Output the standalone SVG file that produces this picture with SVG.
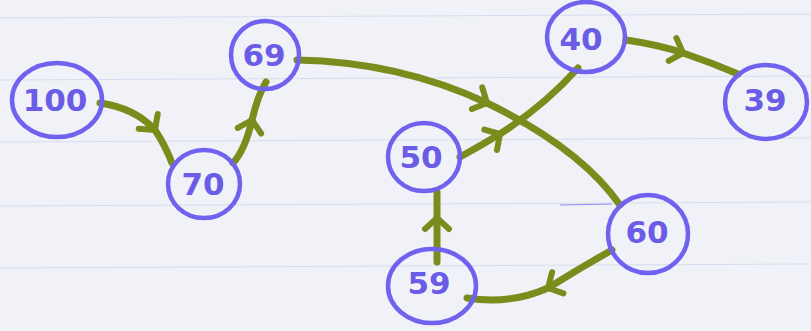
<svg xmlns="http://www.w3.org/2000/svg" width="811" height="331" viewBox="0 0 811 331">
<style>
.node ellipse{fill:none;stroke:#6f62ee;stroke-width:4.5}
.node text{font-family:"DejaVu Sans",sans-serif;font-size:31px;font-weight:bold;fill:#6a5ce6;text-anchor:middle;dominant-baseline:central}
.edge{fill:none;stroke:#7b8c1c;stroke-width:7;stroke-linecap:round;marker-mid:url(#arr)}
.rule{stroke:#d6dcef;stroke-width:1}
</style>
<defs>
<marker id="arr" markerUnits="userSpaceOnUse" orient="auto" overflow="visible" markerWidth="1" markerHeight="1" refX="0" refY="0">
<path d="M-11,-12 L0,0 L-11,12" fill="none" stroke="#7b8c1c" stroke-width="6" stroke-linecap="round" stroke-linejoin="round"/>
</marker>
</defs>
<rect width="811" height="331" fill="#f0f2f7"/>
<g id="paper">
<line class="rule" x1="0" y1="18" x2="811" y2="14"/>
<line class="rule" x1="0" y1="80" x2="811" y2="76"/>
<line class="rule" x1="0" y1="142" x2="811" y2="138"/>
<line class="rule" x1="0" y1="206" x2="811" y2="202"/>
<line class="rule" x1="0" y1="268" x2="811" y2="264"/>
<line x1="560" y1="205" x2="612" y2="204" stroke="#8f86f0" stroke-width="1.2"/>
</g>
<g id="connectors">
<path class="edge" d="M100,103 Q135,108 155,130 Q165,145 172,163"/>
<path class="edge" d="M233,163 Q245,150 252,120 Q258,95 266,82"/>
<path class="edge" d="M297,60 Q400,62 487,103 Q580,148 620,205"/>
<path class="edge" d="M460,157 Q480,146 500,134 Q545,105 578,68"/>
<path class="edge" d="M626,40 Q660,45 683,53 Q710,62 738,74"/>
<path class="edge" d="M612,250 Q580,268 548,288 Q510,305 467,298"/>
<path class="edge" d="M437,262 L437,218 L437,192"/>
</g>
<g id="n100" class="node"><ellipse cx="57" cy="100" rx="45" ry="37"/><text x="55" y="100">100</text></g>
<g id="n70" class="node"><ellipse cx="204" cy="184" rx="36" ry="34"/><text x="203" y="184">70</text></g>
<g id="n69" class="node"><ellipse cx="265" cy="55" rx="34" ry="34"/><text x="264" y="55">69</text></g>
<g id="n50" class="node"><ellipse cx="424" cy="157" rx="36" ry="34"/><text x="421" y="157">50</text></g>
<g id="n40" class="node"><ellipse cx="586" cy="37" rx="39" ry="35"/><text x="581" y="39">40</text></g>
<g id="n39" class="node"><ellipse cx="766" cy="102" rx="41" ry="37"/><text x="765" y="100">39</text></g>
<g id="n60" class="node"><ellipse cx="648" cy="234" rx="40" ry="39"/><text x="647" y="232">60</text></g>
<g id="n59" class="node"><ellipse cx="432" cy="286" rx="44" ry="37"/><text x="429" y="283">59</text></g>
</svg>
